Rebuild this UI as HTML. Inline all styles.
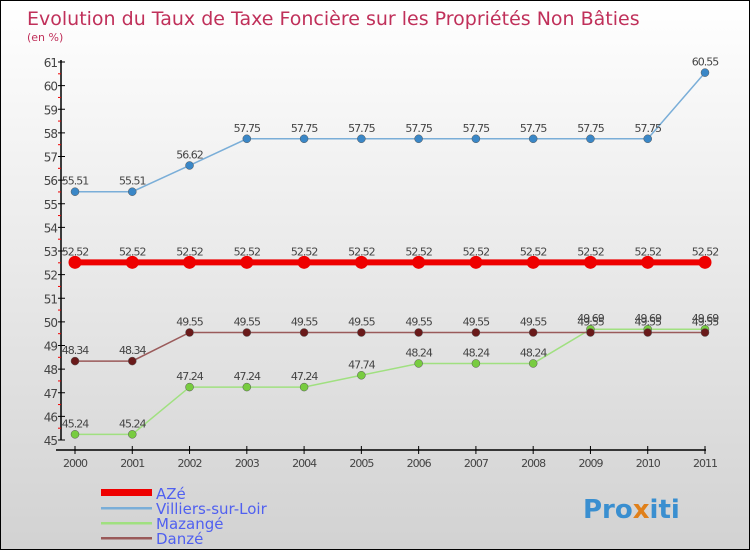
<!DOCTYPE html>
<html><head><meta charset="utf-8"><style>
body{margin:0;}
#c{width:748px;height:548px;border:1px solid #000;background:linear-gradient(#ffffff,#d2d2d2);position:relative;font-family:"DejaVu Sans","Liberation Sans",sans-serif;overflow:hidden}
svg text{font-family:"DejaVu Sans","Liberation Sans",sans-serif}
</style></head><body>
<div id="c">
<svg id="s" width="748" height="548">
<text x="26" y="24" font-size="19" fill="#c0305a">Evolution du Taux de Taxe Foncière sur les Propriétés Non Bâties</text>
<text x="26" y="40" font-size="11" fill="#c0305a">(en %)</text>
<g id="axes"></g><g id="series"></g><g id="legend"></g>
<text x="582" y="517" font-size="26" font-weight="bold" fill="#3a8fd0">Pro<tspan fill="#e0801a">x</tspan>iti</text>
</svg></div>
<script>
const years=[2000,2001,2002,2003,2004,2005,2006,2007,2008,2009,2010,2011];
const yTicks=[45,46,47,48,49,50,51,52,53,54,55,56,57,58,59,60,61];
const seriesNames=["AZé","Villiers-sur-Loir","Mazangé","Danzé"];
const aze=[52.52,52.52,52.52,52.52,52.52,52.52,52.52,52.52,52.52,52.52,52.52,52.52];
const villiers=[55.51,55.51,56.62,57.75,57.75,57.75,57.75,57.75,57.75,57.75,57.75,60.55];
const mazange=[45.24,45.24,47.24,47.24,47.24,47.74,48.24,48.24,48.24,49.69,49.69,49.69];
const danze=[48.34,48.34,49.55,49.55,49.55,49.55,49.55,49.55,49.55,49.55,49.55,49.55];
const NS="http://www.w3.org/2000/svg";
const X=i=>74+i*(630/(years.length-1));
const Y=v=>439-(v-45)*(378/16);
function mk(t,a,p){const e=document.createElementNS(NS,t);for(const k in a)e.setAttribute(k,a[k]);p.appendChild(e);return e;}
const ax=document.getElementById('axes');
let l=mk('line',{x1:60,y1:Y(61)-2,x2:60,y2:Y(45),stroke:'#000','stroke-width':1.5},ax);


l=mk('line',{x1:55,y1:449,x2:705,y2:449,stroke:'#000','stroke-width':1.5},ax);


yTicks.forEach(v=>{
 mk('line',{x1:57,y1:Y(v),x2:64,y2:Y(v),stroke:'#000'},ax);
 if(v<61) mk('line',{x1:57,y1:Y(v+0.5),x2:60,y2:Y(v+0.5),stroke:'#e00'},ax);
 const t=mk('text',{x:56,y:Y(v)+5,'text-anchor':'end','font-size':12,fill:'#444','letter-spacing':'-1'},ax);t.textContent=v;
 
 
});
years.forEach((y,i)=>{
 mk('line',{x1:X(i),y1:445,x2:X(i),y2:453,stroke:'#000'},ax);
 const t=mk('text',{x:X(i),y:466,'text-anchor':'middle','font-size':11,fill:'#444','letter-spacing':'-1'},ax);t.textContent=y;
 
 
});
const sg=document.getElementById('series');
const defs=[[villiers,'#7aaed8','#3a87c7',1.5,4,'villiers'],[mazange,'#a0e080','#78cc40',1.5,4,'mazange'],[danze,'#9a5a5a','#6a1a1a',1.5,4,'danze'],[aze,'#ee0000','#ee0000',6,6.5,'aze']];
defs.forEach(([d,lc,pc,w,r,n])=>{
 const p=mk('polyline',{points:d.map((v,i)=>X(i)+','+Y(v)).join(' '),fill:'none',stroke:lc,'stroke-width':w},sg);
 
 
 d.forEach((v,i)=>{
  const c=mk('circle',{cx:X(i),cy:Y(v),r:r,fill:pc,stroke:n=='aze'?'none':'#555','stroke-width':0.5},sg);
  
  
  const t=mk('text',{x:X(i),y:Y(v)-7,'text-anchor':'middle','font-size':11,fill:'#444','letter-spacing':'-1'},sg);t.textContent=v;
  
  
 });
});
const lg=document.getElementById('legend');
const lcols=['#ee0000','#7aaed8','#a0e080','#9a5a5a'];
seriesNames.forEach((nm,i)=>{
 const y=492+i*15;
 const r=mk('rect',{x:100,y:y-(i==0?4:1),width:51,height:i==0?7:2.5,fill:lcols[i]},lg);
 
 
 const t=mk('text',{x:155,y:y+6,'font-size':15,fill:'#5060f0'},lg);t.textContent=nm;
 
 
});
</script></body></html>
